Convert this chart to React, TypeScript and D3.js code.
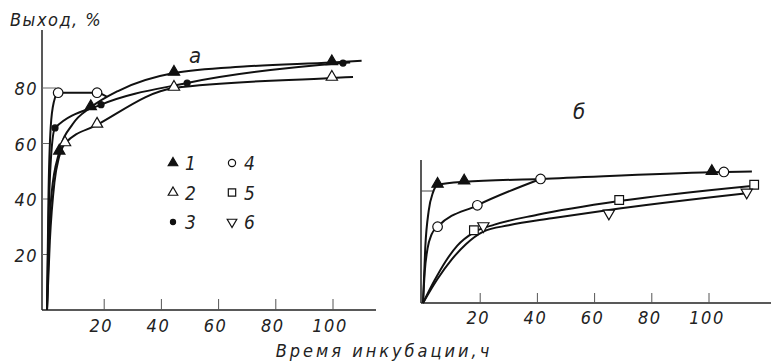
import { useRef, useEffect } from 'react';
import * as d3 from 'd3';

type Pt = [number, number];

const W = 771;
const H = 363;

const xTicks = [20, 40, 60, 80, 100];
const yTicksA = [20, 40, 60, 80];
const yTicksB = [80];

// panel a: curves (hours, %)
const lineA1: Pt[] = [[0, 0], [0.6, 22], [1.6, 42], [4.3, 57], [9, 67], [15.3, 73], [25, 79], [44.4, 85.4], [70, 87.8], [99.6, 89.2], [110, 89.8]];
const lineA2: Pt[] = [[0, 0], [1, 25], [2.6, 46], [4.2, 55], [6.3, 60], [17.5, 66.7], [44.4, 80], [99.6, 83.6], [107, 84]];
const lineA3: Pt[] = [[0, 0], [0.5, 30], [1.4, 55], [2.8, 65.6], [18.9, 74], [49, 81.8], [103.5, 89], [106, 89.2]];
const lineA4: Pt[] = [[0, 0], [0.5, 40], [1.3, 66], [2.4, 75], [3.9, 78.3], [17.5, 78.3], [21, 76.8]];

const ptsA1: Pt[] = [[4.3, 57], [15.3, 73], [44.4, 85.4], [99.6, 89.2]];
const ptsA2: Pt[] = [[6.3, 60], [17.5, 66.7], [44.4, 80], [99.6, 83.6]];
const ptsA3: Pt[] = [[2.8, 65.6], [18.9, 74], [49, 81.8], [103.5, 89]];
const ptsA4: Pt[] = [[3.9, 78.3], [17.5, 78.3]];

// panel б
const lineB1: Pt[] = [[0, 0], [0.8, 40], [2, 66], [3.5, 79], [5.1, 84.3], [14.4, 86.6], [41.1, 88.6], [101, 93.4], [115, 94]];
const lineB4: Pt[] = [[0, 0], [0.6, 22], [1.6, 39], [3, 49], [5.1, 54.5], [19, 69.8], [41.1, 88.6]];
const lineB5: Pt[] = [[0, 0], [4, 16], [8, 30], [12, 41], [17.8, 50.5], [25, 56], [40, 63], [68.6, 72.8], [115.8, 83.8]];
const lineB6: Pt[] = [[0, 0], [5, 17], [10, 31], [15, 42], [21.1, 51], [30, 55.5], [45, 60.5], [65, 66.5], [113.2, 78.4]];

const ptsB1: Pt[] = [[5.1, 84.3], [14.4, 86.6], [101, 93.4]];
const ptsB4: Pt[] = [[5.1, 54.5], [19, 69.8], [41.1, 88.6], [105.2, 93.6]];
const ptsB5: Pt[] = [[17.8, 52], [68.6, 73.6], [115.8, 84.5]];
const ptsB6: Pt[] = [[21.1, 55], [65, 64], [113.2, 79]];

const legendRows = [
  [{ sym: 'triF', label: '1' }, { sym: 'circO', label: '4' }],
  [{ sym: 'triO', label: '2' }, { sym: 'sqO', label: '5' }],
  [{ sym: 'circF', label: '3' }, { sym: 'triD', label: '6' }],
];

const FONT = "'Liberation Sans Narrow', 'DejaVu Sans Condensed', sans-serif";

export default function App() {
  const svgRef = useRef<SVGSVGElement>(null);

  useEffect(() => {
    const svg = d3.select(svgRef.current);
    svg.selectAll('*').remove();

    svg.append('rect').attr('width', W).attr('height', H).attr('fill', '#fff');

    const xA = d3.scaleLinear().domain([0, 110]).range([47, 47 + 110 * 2.86]);
    const yA = d3.scaleLinear().domain([0, 100]).range([310, 310 - 277.5]);
    const xB = d3.scaleLinear().domain([0, 110]).range([423, 423 + 110 * 2.86]);
    const yB = d3.scaleLinear().domain([0, 100]).range([303, 303 - 140]);

    const txt = (x: number, y: number, s: string, size = 18, anchor = 'middle', ls = 1.5) =>
      svg
        .append('text')
        .attr('x', x)
        .attr('y', y)
        .attr('text-anchor', anchor)
        .attr('font-family', FONT)
        .attr('font-style', 'italic')
        .attr('font-size', size)
        .attr('letter-spacing', ls)
        .attr('fill', '#222')
        .text(s);

    const drawSym = (sym: string, cx: number, cy: number, scale = 1) => {
      if (sym === 'circO' || sym === 'circF') {
        svg
          .append('circle')
          .attr('cx', cx)
          .attr('cy', cy)
          .attr('r', (sym === 'circO' ? 4.8 : 3) * scale)
          .attr('fill', sym === 'circO' ? '#fff' : '#111')
          .attr('stroke', '#111')
          .attr('stroke-width', 1.2);
        return;
      }
      let type: d3.SymbolType = d3.symbolTriangle;
      let size = 55;
      if (sym === 'sqO') {
        type = d3.symbolSquare;
        size = 75;
      }
      svg
        .append('path')
        .attr('d', d3.symbol().type(type).size(size * scale * scale)()!)
        .attr('transform', `translate(${cx},${cy})${sym === 'triD' ? ' rotate(180)' : ''}`)
        .attr('fill', sym === 'triF' ? '#111' : '#fff')
        .attr('stroke', '#111')
        .attr('stroke-width', 1.2);
    };

    const drawLine = (pts: Pt[], x: d3.ScaleLinear<number, number>, y: d3.ScaleLinear<number, number>) => {
      const gen = d3
        .line<Pt>()
        .x((d) => x(d[0]))
        .y((d) => y(d[1]))
        .curve(d3.curveMonotoneX);
      svg
        .append('path')
        .attr('d', gen(pts)!)
        .attr('fill', 'none')
        .attr('stroke', '#111')
        .attr('stroke-width', 2);
    };

    // panel a axes
    svg.append('line').attr('x1', 42).attr('x2', 42).attr('y1', 30).attr('y2', yA(0)).attr('stroke', '#222').attr('stroke-width', 1.5);
    svg.append('line').attr('x1', 42).attr('x2', 376).attr('y1', yA(0)).attr('y2', yA(0)).attr('stroke', '#222').attr('stroke-width', 1.5);
    xTicks.forEach((t) => {
      svg.append('line').attr('x1', xA(t)).attr('x2', xA(t)).attr('y1', yA(0)).attr('y2', yA(0) - 11).attr('stroke', '#555').attr('stroke-width', 1);
      txt(xA(t) - 3, 332, String(t));
    });
    yTicksA.forEach((t) => {
      svg.append('line').attr('x1', 42).attr('x2', t === 80 ? 56 : 50).attr('y1', yA(t)).attr('y2', yA(t)).attr('stroke', '#666').attr('stroke-width', 1);
      txt(38, yA(t) + 7, String(t), 18, 'end');
    });

    // panel б axes
    svg.append('line').attr('x1', 421).attr('x2', 421).attr('y1', 160).attr('y2', yB(0)).attr('stroke', '#222').attr('stroke-width', 1.5);
    svg.append('line').attr('x1', 421).attr('x2', 771).attr('y1', yB(0)).attr('y2', yB(0)).attr('stroke', '#222').attr('stroke-width', 1.5);
    xTicks.forEach((t) => {
      svg.append('line').attr('x1', xB(t)).attr('x2', xB(t)).attr('y1', yB(0)).attr('y2', yB(0) - 10).attr('stroke', '#555').attr('stroke-width', 1);
      txt(xB(t) - 2, 324, String(t));
    });
    yTicksB.forEach((t) => {
      svg.append('line').attr('x1', 421).attr('x2', 433).attr('y1', yB(t)).attr('y2', yB(t)).attr('stroke', '#444').attr('stroke-width', 1);
    });

    // curves
    [lineA1, lineA2, lineA3, lineA4].forEach((l) => drawLine(l, xA, yA));
    [lineB1, lineB4, lineB5, lineB6].forEach((l) => drawLine(l, xB, yB));

    // markers
    ptsA1.forEach((p) => drawSym('triF', xA(p[0]), yA(p[1]) - 1));
    ptsA2.forEach((p) => drawSym('triO', xA(p[0]), yA(p[1]) - 1));
    ptsA3.forEach((p) => drawSym('circF', xA(p[0]), yA(p[1])));
    ptsA4.forEach((p) => drawSym('circO', xA(p[0]), yA(p[1])));
    ptsB1.forEach((p) => drawSym('triF', xB(p[0]), yB(p[1]) - 1));
    ptsB4.forEach((p) => drawSym('circO', xB(p[0]), yB(p[1])));
    ptsB5.forEach((p) => drawSym('sqO', xB(p[0]), yB(p[1])));
    ptsB6.forEach((p) => drawSym('triD', xB(p[0]), yB(p[1])));

    // legend
    legendRows.forEach((row, i) => {
      const cy = 163 + i * 29.5;
      row.forEach((it, j) => {
        const cx = 173 + j * 59;
        drawSym(it.sym, cx, cy, it.sym === 'circO' ? 0.75 : 0.85);
        txt(cx + 12, cy + 7, it.label, 19, 'start', 0);
      });
    });

    // titles
    txt(10, 26, 'Выход, %', 18, 'start', 1.5);
    txt(195, 63, 'a', 22, 'middle', 0);
    txt(579, 119, 'б', 22, 'middle', 0);
    txt(384, 357, 'Время инкубации,ч', 18, 'middle', 3);
  }, []);

  return <svg ref={svgRef} width={W} height={H} style={{ display: 'block', position: 'absolute', left: 0, top: 0 }} />;
}
